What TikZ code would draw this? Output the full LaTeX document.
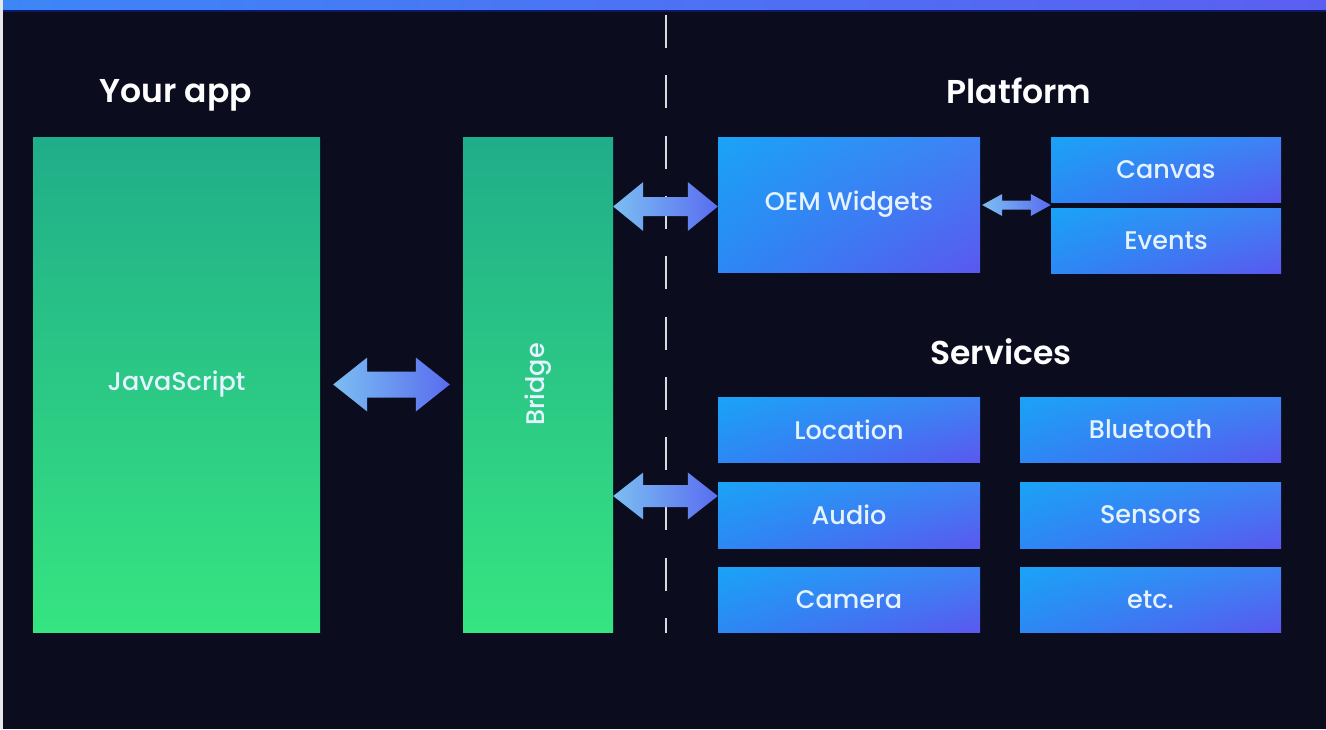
\documentclass[tikz,border=0pt]{standalone}
\usepackage{fontspec}
\setmainfont{Poppins}[BoldFont={Poppins SemiBold}]
\newfontfamily\labelfont{Poppins Medium}
\usetikzlibrary{calc,shadings}
\definecolor{bg}{HTML}{0B0D1F}
\definecolor{barL}{HTML}{3D86F6}
\definecolor{barR}{HTML}{5B5FF1}
\definecolor{barline}{HTML}{0E1868}
\definecolor{gTop}{HTML}{20AD89}
\definecolor{gBot}{HTML}{36E481}
\definecolor{bUL}{HTML}{1AA3F6}
\definecolor{bUR}{HTML}{3F82F4}
\definecolor{bLL}{HTML}{2C88F4}
\definecolor{bLR}{HTML}{5A58EF}
\definecolor{arrL}{HTML}{7BBEF1}
\definecolor{arrR}{HTML}{5A6CF0}
\definecolor{txt}{HTML}{E4F3FF}
\newcommand\dblarrow[6][]{%
  \path[arrowshade,#1] let \p1=(#2), \p2=(#3) in
   (\x1,\y1) -- (\x1+#6,\y1+#4) -- (\x1+#6,\y1+#5) -- (\x2-#6,\y1+#5)
   -- (\x2-#6,\y1+#4) -- (\x2,\y1) -- (\x2-#6,\y1-#4) -- (\x2-#6,\y1-#5)
   -- (\x1+#6,\y1-#5) -- (\x1+#6,\y1-#4) -- cycle;}
\begin{document}
\begin{tikzpicture}[x=1pt,y=-1pt,
  lbl/.style={text=txt, font=\labelfont\fontsize{25.5}{30}\selectfont},
  greenbox/.style={inner sep=0pt, top color=gTop, bottom color=gBot, lbl},
  bluebox/.style={inner sep=0pt, upper left=bUL, upper right=bUR,
    lower left=bLL, lower right=bLR, lbl},
  title/.style={anchor=base, text=white!95!txt, font=\fontsize{33}{38}\selectfont\bfseries},
  arrowshade/.style={left color=arrL, right color=arrR},
  divider/.style={draw=white, draw opacity=0.85, line width=2pt,
    dash pattern=on 33pt off 27.3pt}
]
\useasboundingbox (0,0) rectangle (1326,729);
\fill[bg] (0,0) rectangle (1326,729);
\shade[left color=barL, right color=barR] (0,0) rectangle (1326,10);
\fill[barline] (0,10) rectangle (1326,12);
\fill[white!90!bg] (0,0) rectangle (3,729);

% divider
\coordinate (dtop) at (666,15);
\coordinate (dbot) at (666,633);
\draw[divider] (dtop) -- (dbot);

% titles
\node[title] (tapp) at (176,102) {Your app};
\node[title] (tplat) at (1019,103) {Platform};
\node[title] (tserv) at (1001,364) {Services};

% left column
\node[greenbox, minimum width=287pt, minimum height=495pt] (js) at (176.5,384.5) {JavaScript};
\node[greenbox, minimum width=150pt, minimum height=495pt] (br) at (538,384.5) {};
\node[rotate=90, lbl] (brlabel) at (br.center) {Bridge};

% platform
\node[bluebox, minimum width=262pt, minimum height=135pt] (oem) at (849,204.5) {OEM Widgets};
\node[bluebox, minimum width=230pt, minimum height=65pt] (canvas) at (1166,169.5) {Canvas};
\node[bluebox, minimum width=230pt, minimum height=65pt] (events) at (1166,240.5) {Events};

% services
\node[bluebox, minimum width=262pt, minimum height=65pt] (loc) at (849,429.5) {Location};
\node[bluebox, minimum width=261pt, minimum height=65pt] (bt) at (1150.5,429.5) {Bluetooth};
\node[bluebox, minimum width=262pt, minimum height=66pt] (audio) at (849,515) {Audio};
\node[bluebox, minimum width=261pt, minimum height=66pt] (sens) at (1150.5,515) {Sensors};
\node[bluebox, minimum width=262pt, minimum height=65pt] (cam) at (849,599.5) {Camera};
\node[bluebox, minimum width=261pt, minimum height=65pt] (etc) at (1150.5,599.5) {etc.};

% connectors
\coordinate (a1l) at ($(js.east)+(13,0)$);
\coordinate (a1r) at ($(br.west)+(-13,0)$);
\dblarrow{a1l}{a1r}{27pt}{13pt}{34pt}

\coordinate (a2r) at ($(oem.west)+(0,2)$);
\coordinate (a2l) at (br.east |- a2r);
\dblarrow{a2l}{a2r}{24.5pt}{9.5pt}{30pt}

\coordinate (a3r) at ($(audio.west)+(0,-19)$);
\coordinate (a3l) at (br.east |- a3r);
\dblarrow{a3l}{a3r}{23.5pt}{11pt}{30pt}

\coordinate (a4r) at ($(canvas.south west)!0.5!(events.north west)$);
\coordinate (a4l) at ($(oem.east |- a4r)+(2,0)$);
\dblarrow{a4l}{a4r}{11pt}{4.5pt}{20pt}
\end{tikzpicture}
\end{document}
